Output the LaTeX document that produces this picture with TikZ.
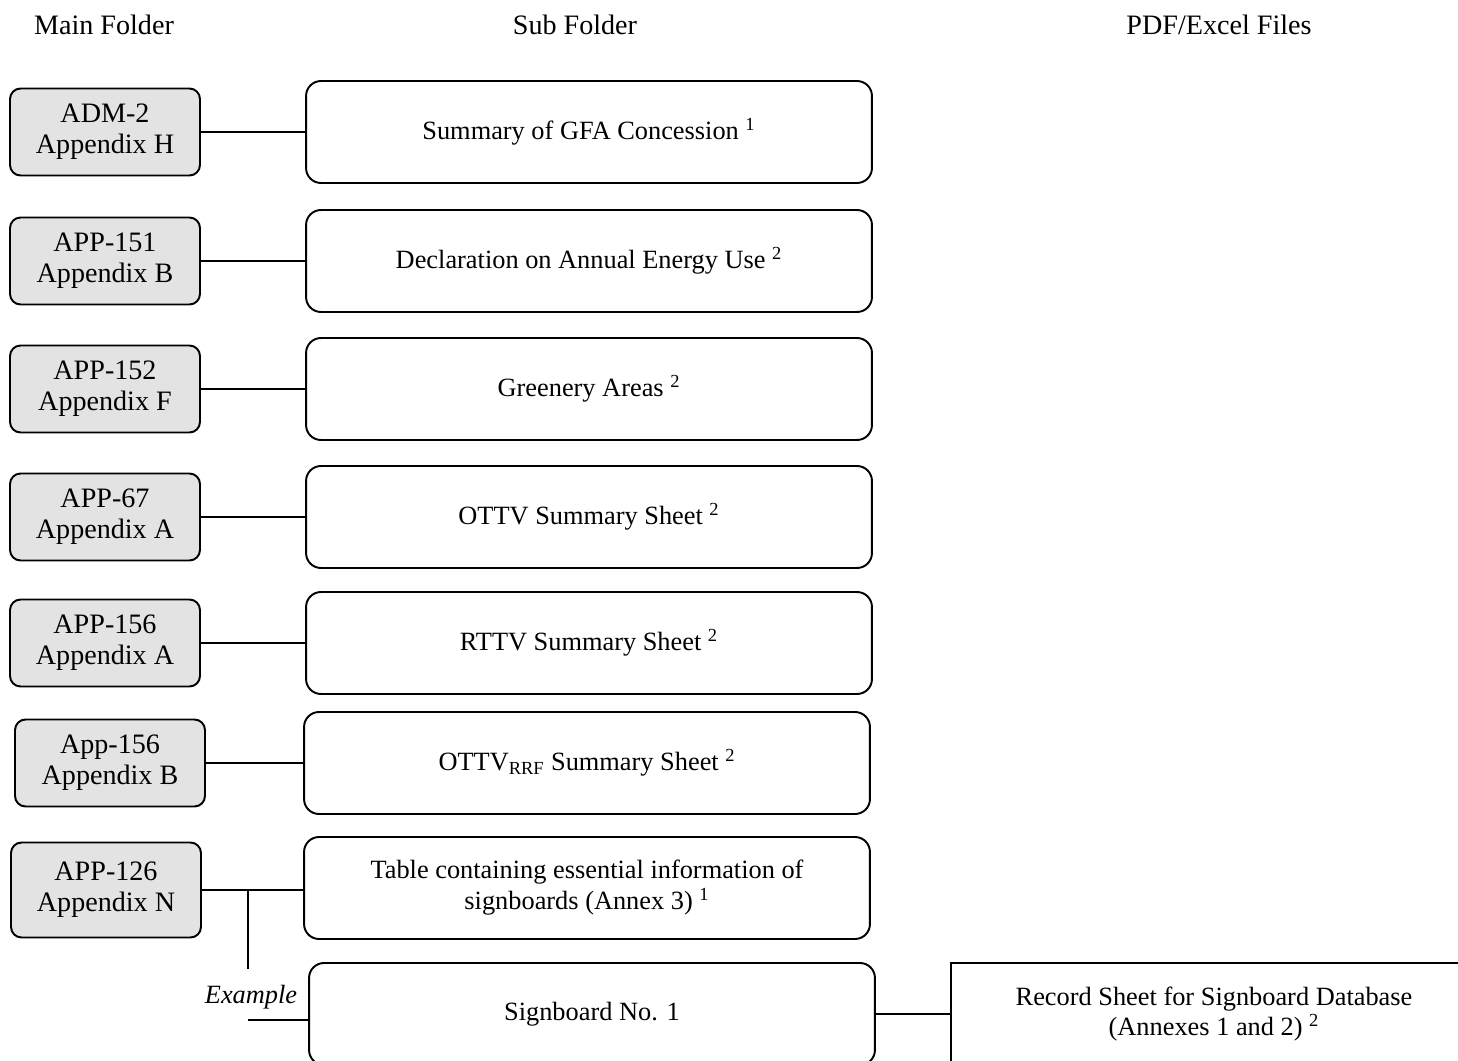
\documentclass[tikz,border=0pt]{standalone}
\usepackage{fontspec}
\setmainfont{Liberation Serif}
\usepackage{tikz}
\usetikzlibrary{positioning}

\begin{document}
\begin{tikzpicture}[x=0.02cm,y=0.02cm]
                \tikzstyle{every node}+=[inner sep=0pt]
                \tikzstyle{mainbox}=[draw=black, line width=1.1pt, fill=gray!22, rounded corners=6pt, minimum width=3.8cm, minimum height=1.74cm, align=center, font=\fontsize{16}{17.6}\selectfont]
                \tikzstyle{subbox}=[draw=black, line width=1.1pt, rounded corners=8.5pt, minimum width=11.32cm, minimum height=2.04cm, align=center, font=\fontsize{15}{17.6}\selectfont]
                \tikzstyle{filebox}=[draw=black, line width=1.1pt, minimum width=10.52cm, minimum height=2.04cm, align=center, font=\fontsize{15}{17.6}\selectfont]
                \tikzstyle{head}=[font=\fontsize{16}{17.6}\selectfont]
                \tikzstyle{link}=[black, line width=0.8pt]
                \useasboundingbox (0,0) rectangle (1458,-1061);
                % column headings
                \node [head] (hmain) at (104,-25) {Main Folder};
                \node [head] (hsub) at (575,-25) {Sub Folder};
                \node [head] (hfile) at (1219,-25) {PDF/Excel Files};
                % main folders
                \node [mainbox] (adm2) at (105,-132) {ADM-2\\Appendix H};
                \node [mainbox] (app151) at (105,-261) {APP-151\\Appendix B};
                \node [mainbox] (app152) at (105,-389) {APP-152\\Appendix F};
                \node [mainbox] (app67) at (105,-517) {APP-67\\Appendix A};
                \node [mainbox] (app156a) at (105,-643) {APP-156\\Appendix A};
                \node [mainbox] (app156b) at (110,-763) {App-156\\Appendix B};
                \node [mainbox, minimum height=1.9cm] (app126) at (106,-890) {APP-126\\Appendix N};
                % sub folders
                \node [subbox] (gfa) at (589,-132) {Summary of GFA Concession \textsuperscript{1}};
                \node [subbox] (energy) at (589,-261) {Declaration on Annual Energy Use \textsuperscript{2}};
                \node [subbox] (green) at (589,-389) {Greenery Areas \textsuperscript{2}};
                \node [subbox] (ottv) at (589,-517) {OTTV Summary Sheet \textsuperscript{2}};
                \node [subbox] (rttv) at (589,-643) {RTTV Summary Sheet \textsuperscript{2}};
                \node [subbox] (ottvrrf) at (587,-763) {OTTV\textsubscript{RRF} Summary Sheet \textsuperscript{2}};
                \node [subbox] (table) at (587,-888) {Table containing essential information of\\signboards (Annex 3) \textsuperscript{1}};
                \node [subbox] (sign) at (592,-1014) {Signboard No. 1};
                % files
                \node [filebox] (record) at (1214,-1014) {Record Sheet for Signboard Database\\(Annexes 1 and 2) \textsuperscript{2}};
                % links
                \draw [link] (adm2.east) -- (adm2.east -| gfa.west);
                \draw [link] (app151.east) -- (app151.east -| energy.west);
                \draw [link] (app152.east) -- (app152.east -| green.west);
                \draw [link] (app67.east) -- (app67.east -| ottv.west);
                \draw [link] (app156a.east) -- (app156a.east -| rttv.west);
                \draw [link] (app156b.east) -- (app156b.east -| ottvrrf.west);
                \draw [link] (app126.east) -- (app126.east -| table.west);
                \coordinate (split) at (248,-890);
                \draw [link] (split) -- ++(0,-79);
                \node [font=\fontsize{15}{17.6}\selectfont\itshape] (example) at (251,-997) {Example};
                \coordinate (branch) at (248,-1020);
                \draw [link] (branch) -- (branch -| sign.west);
                \draw [link] (sign.east) -- (record.west);
            \end{tikzpicture}
\end{document}
